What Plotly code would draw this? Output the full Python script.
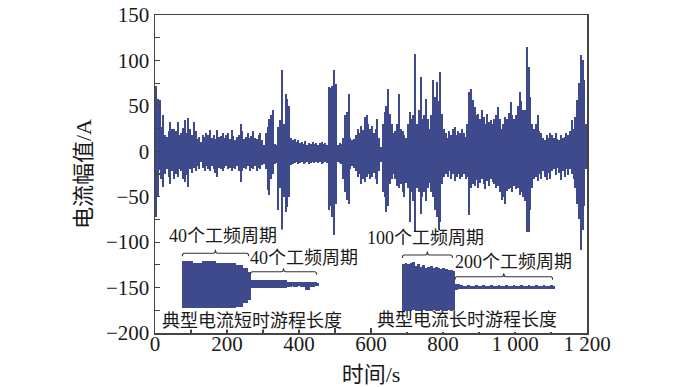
import plotly.graph_objects as go

# ---------------- data ----------------
time_s = list(range(0, 1200, 5))

upper_A = [
    72, 58, 57, 27, 40, 18, 16, 22, 32, 25,
    25, 22, 32, 18, 20, 26, 34, 20, 37, 24,
    18, 32, 22, 14, 16, 10, 18, 16, 20, 18,
    23, 15, 18, 14, 23, 16, 17, 20, 15, 18,
    20, 14, 23, 17, 12, 16, 18, 30, 22, 14,
    16, 20, 15, 17, 22, 15, 14, 18, 20, 12,
    7, 20, 27, 36, 40, 45, 8, 7, 27, 34,
    90, 30, 63, 58, 50, 15, 12, 14, 10, 12,
    9, 10, 8, 11, 7, 9, 8, 10, 8, 9,
    7, 9, 10, 8, 9, 7, 71, 70, 72, 90,
    74, 7, 9, 8, 15, 40, 43, 63, 15, 12,
    14, 18, 25, 20, 28, 23, 38, 40, 30, 25,
    28, 20, 24, 36, 15, 5, 30, 43, 50, 69,
    41, 30, 20, 22, 30, 63, 25, 22, 18, 15,
    30, 43, 35, 40, 107, 30, 45, 82, 35, 40,
    58, 35, 25, 40, 78, 60, 76, 55, 87, 41,
    25, 20, 15, 22, 18, 25, 27, 18, 22, 20,
    25, 20, 16, 30, 65, 69, 56, 49, 40, 41,
    35, 45, 38, 30, 41, 32, 34, 30, 36, 40,
    49, 35, 25, 30, 38, 36, 42, 54, 40, 35,
    40, 50, 65, 55, 45, 45, 115, 93, 60, 30,
    25, 30, 40, 22, 20, 15, 12, 18, 15, 20,
    18, 15, 20, 14, 12, 18, 15, 16, 20, 18,
    22, 34, 25, 38, 56, 75, 106, 100, 78, 30,
]

lower_A = [
    -72, -50, -21, -30, -39, -25, -20, -28, -36, -22,
    -30, -25, -28, -20, -22, -30, -34, -26, -39, -20,
    -24, -18, -22, -16, -20, -12, -18, -22, -16, -20,
    -22, -16, -20, -24, -28, -18, -20, -22, -18, -16,
    -20, -18, -22, -18, -20, -16, -22, -34, -22, -18,
    -20, -16, -22, -18, -20, -16, -22, -18, -20, -15,
    -14, -20, -43, -48, -30, -25, -14, -13, -65, -40,
    -92, -50, -67, -61, -50, -15, -14, -13, -12, -14,
    -13, -12, -14, -13, -12, -14, -13, -12, -13, -12,
    -13, -12, -14, -13, -12, -13, -65, -60, -72, -92,
    -58, -12, -13, -14, -30, -45, -54, -58, -20, -16,
    -18, -22, -28, -25, -36, -30, -34, -28, -25, -30,
    -28, -24, -30, -36, -22, -12, -45, -50, -67, -60,
    -36, -30, -25, -30, -38, -40, -36, -45, -50, -35,
    -40, -78, -45, -55, -100, -40, -45, -69, -50, -45,
    -55, -40, -35, -45, -50, -65, -72, -87, -78, -36,
    -28, -25, -28, -22, -30, -25, -33, -28, -25, -30,
    -28, -25, -30, -28, -70, -40, -36, -38, -32, -40,
    -35, -30, -36, -42, -33, -38, -30, -34, -36, -40,
    -38, -45, -54, -50, -58, -44, -42, -40, -45, -38,
    -42, -40, -48, -45, -50, -55, -94, -102, -65, -40,
    -30, -28, -33, -25, -30, -22, -28, -32, -24, -30,
    -22, -20, -26, -18, -24, -32, -22, -28, -20, -26,
    -20, -25, -30, -40, -58, -75, -109, -87, -60, -20,
]

x_tickvals = [0, 200, 400, 600, 800, 1000, 1200]
x_ticktext = ["0", "200", "400", "600", "800", "1 000", "1 200"]

# inset 1: typical short run (cycles)
inset1_cycles = list(range(0, 81))
inset1_upper = [
    23.5, 23.5, 23.6, 23.4, 23.5, 23.5,
    21.5, 21.4, 21.6, 21.5, 21.5, 21.4,
    23.5, 23.6, 23.4, 23.5, 23.5, 23.6, 23.4, 23.5,
    21.5, 21.4, 21.6, 21.5, 21.5, 21.4, 21.6, 21.5, 21.5, 21.4, 21.6, 21.5,
    19.5, 19.5, 19.4, 19.6,
    16.0, 16.0, 16.0,
    12.5, 12.5,
    4.5, 4.5, 4.6, 4.4, 4.5, 4.5, 4.6, 4.4, 4.5, 4.5, 4.6,
    4.4, 4.5, 4.5, 4.6, 4.4, 4.5, 4.5, 4.6, 4.4, 4.5,
    2.5, 2.5, 2.6, 2.4, 2.5, 2.5, 2.6, 2.4, 2.5, 2.5,
    2.6, 2.4, 2.5, 2.5, 2.6, 2.4, 2.5, 2.5,
    2.0,
]
inset1_lower = [
    -23.5, -23.5, -23.6, -23.4, -23.5, -23.5, -23.6, -23.4,
    -23.5, -23.5, -23.6, -23.4, -23.5, -23.5, -23.6, -23.4,
    -23.5, -23.5, -23.6, -23.4, -23.5, -23.5, -23.6, -23.4,
    -23.5, -23.5, -23.6, -23.4, -23.5, -23.5, -23.6, -23.4,
    -22.0, -22.0, -22.0, -22.0,
    -18.5, -18.5, -18.5,
    -15.0, -15.0,
    -3.8, -3.8, -3.9, -3.7, -3.8, -3.8, -3.9, -3.7, -3.8, -3.8, -3.9,
    -3.7, -3.8, -3.8, -3.9, -3.7, -3.8, -3.8, -3.9, -3.7, -3.8,
    -2.0, -2.0, -2.1, -1.9, -2.0, -2.0, -2.1, -1.9, -2.0, -2.0, -2.1,
    -5.5, -5.5, -5.5,
    -2.0, -2.0, -2.1, -1.9,
    -1.5,
]
inset1_segments = [40, 40]

# inset 2: typical long run (cycles)
inset2_cycles = list(range(0, 301, 5))
inset2_upper = [
    23.5, 24, 23, 24.5, 25, 21.5, 23, 20.5, 22, 19.5, 20,
    21, 19.5, 20.5, 19, 18.5, 19.5, 18, 17.5, 17, 16.5,
    3.5, 3, 2, 1.5, 1.5, 2.2, 1.5, 1.5, 1.8, 1.5,
    1.5, 2.5, 1.5, 1.5, 1.8, 1.5, 1.5, 2, 1.5, 1.5,
    1.8, 1.5, 1.5, 2.5, 1.5, 1.5, 1.8, 1.5, 1.5, 2,
    1.5, 1.5, 1.8, 1.5, 1.5, 2.2, 1.5, 1.5, 1.8, 1.5,
]
inset2_lower = [
    -23.5, -24, -23.5, -24, -23, -24, -23.5, -24, -23, -23.5, -24,
    -23.5, -23, -24, -23.5, -23, -24, -23.5, -23, -23.5, -23,
    -2.5, -2, -1.8, -1.5, -1.5, -1.6, -1.5, -1.5, -1.7, -1.5,
    -1.5, -1.6, -1.5, -1.5, -1.7, -1.5, -1.5, -1.6, -1.5, -1.5,
    -1.7, -1.5, -1.5, -1.6, -1.5, -1.5, -1.7, -1.5, -1.5, -1.6,
    -1.5, -1.5, -1.7, -1.5, -1.5, -1.6, -1.5, -1.5, -1.7, -1.5,
]
inset2_segments = [100, 200]

inset1_labels = ["40个工频周期", "40个工频周期", "典型电流短时游程长度"]
inset2_labels = ["100个工频周期", "200个工频周期", "典型电流长时游程长度"]

# ---------------- helpers ----------------
def brace_path(x0, x1, y, d, h_end, h_tip):
    m = (x0 + x1) / 2
    return (f"M {x0},{y - h_end} Q {x0},{y} {x0 + d},{y} "
            f"L {m - d},{y} Q {m},{y} {m},{y + h_tip} "
            f"Q {m},{y} {m + d},{y} L {x1 - d},{y} Q {x1},{y} {x1},{y - h_end}")


def span_bars(x, up, lo, width, xa, ya):
    return go.Bar(x=x, y=[u - l for u, l in zip(up, lo)], base=lo,
                  width=width, offset=0, xaxis=xa, yaxis=ya,
                  marker=dict(color=SIG, line=dict(width=0)),
                  hoverinfo="skip", showlegend=False)


SIG = "#3f4a8c"
FONT = "Liberation Serif, Times New Roman, Noto Sans CJK SC, serif"

fig = go.Figure()
fig.add_trace(span_bars(time_s, upper_A, lower_A, 5.4, "x", "y"))
fig.add_trace(span_bars(inset1_cycles, inset1_upper, inset1_lower, 1.1, "x2", "y2"))
fig.add_trace(span_bars(inset2_cycles, inset2_upper, inset2_lower, 5.3, "x3", "y3"))

# braces
shapes = []
a1 = inset1_segments[0]
b1 = inset1_segments[0] + inset1_segments[1]
shapes.append(dict(type="path", xref="x2", yref="y2",
                   path=brace_path(0, a1 - 0.5, 31.2, 1.3, 3, 3.5),
                   line=dict(color="#333", width=1.1)))
shapes.append(dict(type="path", xref="x2", yref="y2",
                   path=brace_path(a1 + 0.5, b1, 12.8, 1.3, 3, 3.5),
                   line=dict(color="#333", width=1.1)))
a2 = inset2_segments[0]
b2 = inset2_segments[0] + inset2_segments[1]
shapes.append(dict(type="path", xref="x3", yref="y3",
                   path=brace_path(0, a2, 32, 4, 3, 3.5),
                   line=dict(color="#333", width=1.1)))
shapes.append(dict(type="path", xref="x3", yref="y3",
                   path=brace_path(a2 + 5, b2, 10.3, 4, 3, 3.5),
                   line=dict(color="#333", width=1.1)))

annots = [
    dict(x=a1 / 2, y=48.5, xref="x2", yref="y2", text=inset1_labels[0], xshift=7),
    dict(x=a1 + (b1 - a1) / 2, y=26, xref="x2", yref="y2", text=inset1_labels[1], xshift=21),
    dict(x=a1, y=-36.5, xref="x2", yref="y2", text=inset1_labels[2], xshift=2),
    dict(x=a2 / 2, y=49.5, xref="x3", yref="y3", text=inset2_labels[0], xshift=-2),
    dict(x=a2 + (b2 - a2) / 2, y=25.5, xref="x3", yref="y3", text=inset2_labels[1], xshift=11),
    dict(x=150, y=-33, xref="x3", yref="y3", text=inset2_labels[2], xshift=-10),
]
for a in annots:
    a.update(showarrow=False, xanchor="center", yanchor="middle",
             font=dict(family=FONT, size=18, color="#1a1a1a"))

axis_common = dict(showline=True, linecolor="#444", linewidth=1.5, mirror=True,
                   ticks="inside", ticklen=5, tickwidth=1.2, tickcolor="#444",
                   showgrid=False, zeroline=False, automargin=False,
                   tickfont=dict(family=FONT, size=21, color="#1a1a1a"))

fig.update_layout(
    template="none",
    width=700, height=387,
    margin=dict(l=155, r=113, t=15, b=54),
    paper_bgcolor="white", plot_bgcolor="white",
    showlegend=False, bargap=0, barmode="overlay",
    shapes=shapes, annotations=annots,
    xaxis=dict(range=[0, 1200], tickvals=x_tickvals, ticktext=x_ticktext,
               ticklabelstandoff=-9,
               minor=dict(ticks="inside", ticklen=5, dtick=100, tickcolor="#444", tickwidth=1.2),
               title=dict(text="时间/s", standoff=16,
                          font=dict(family=FONT, size=22, color="#1a1a1a")),
               **axis_common),
    yaxis=dict(range=[-200, 150], dtick=50,
               minor=dict(ticks="inside", ticklen=5, dtick=25, tickcolor="#444", tickwidth=1.2),
               title=dict(text="电流幅值/A", standoff=8,
                          font=dict(family=FONT, size=22, color="#1a1a1a")),
               **axis_common),
    xaxis2=dict(domain=[0.0554, 0.3821], range=[-2, 82], anchor="y2", visible=False),
    yaxis2=dict(domain=[0.0110, 0.3255], range=[-45, 55], anchor="x2", visible=False),
    xaxis3=dict(domain=[0.5655, 0.9275], range=[-6, 306], anchor="y3", visible=False),
    yaxis3=dict(domain=[0.0031, 0.3176], range=[-45, 55], anchor="x3", visible=False),
)

fig.write_html("out.html",
               config={"displayModeBar": False, "staticPlot": True},
               post_script="document.body.style.margin='0px';document.body.style.padding='0px';")
